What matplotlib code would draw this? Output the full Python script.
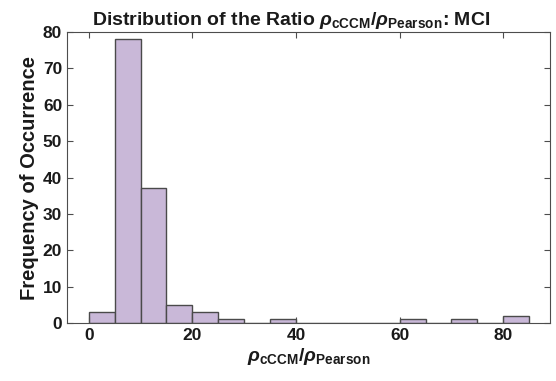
import numpy as np
import matplotlib
matplotlib.use("Agg")
import matplotlib.pyplot as plt

# histogram of rho_cCCM / rho_Pearson ratio, MCI group
bin_edges = np.arange(0, 90, 5)
counts = np.array([3, 78, 37, 5, 3, 1, 0, 1, 0, 0, 0, 0, 1, 0, 1, 0, 2])
x_ticks = [0, 20, 40, 60, 80]
y_ticks = [0, 10, 20, 30, 40, 50, 60, 70, 80]

plt.rcParams['font.family'] = 'Liberation Sans'
plt.rcParams['font.weight'] = 'bold'
plt.rcParams['axes.titleweight'] = 'bold'
plt.rcParams['axes.labelweight'] = 'bold'
plt.rcParams['mathtext.fontset'] = 'custom'
plt.rcParams['mathtext.rm'] = 'Liberation Sans:bold'
plt.rcParams['mathtext.it'] = 'Liberation Sans:bold:italic'
plt.rcParams['mathtext.bf'] = 'Liberation Sans:bold'

axis_col = '#4d4d4d'

fig = plt.figure(figsize=(5.56, 3.81), dpi=100)
ax = fig.add_axes([0.1205, 0.152, 0.8685, 0.764])

ax.bar(bin_edges[:-1], counts, width=5, align='edge',
       color='#c9b8d8', edgecolor='#4a4a4a', linewidth=1.0)

ax.set_xlim(-4.2, 89)
ax.set_ylim(0, 80)
ax.set_xticks(x_ticks)
ax.set_yticks(y_ticks)
ax.tick_params(direction='in', length=4, width=0.8, colors=axis_col,
               labelcolor='#1a1a1a', labelsize=12.5, top=True, right=True)
for sp in ax.spines.values():
    sp.set_color(axis_col)
    sp.set_linewidth(0.8)

ratio = r'$\rho_{\mathrm{cCCM}}/\rho_{\mathrm{Pearson}}$'
ax.set_xlabel(ratio, fontsize=14, color='#1a1a1a', labelpad=2)
ax.set_ylabel('Frequency of Occurrence', fontsize=14.5, color='#1a1a1a', labelpad=3)
ax.set_title('Distribution of the Ratio ' + ratio + ': MCI',
             fontsize=14, color='#1a1a1a', pad=5, x=0.465)

fig.savefig('out.png', dpi=100)
